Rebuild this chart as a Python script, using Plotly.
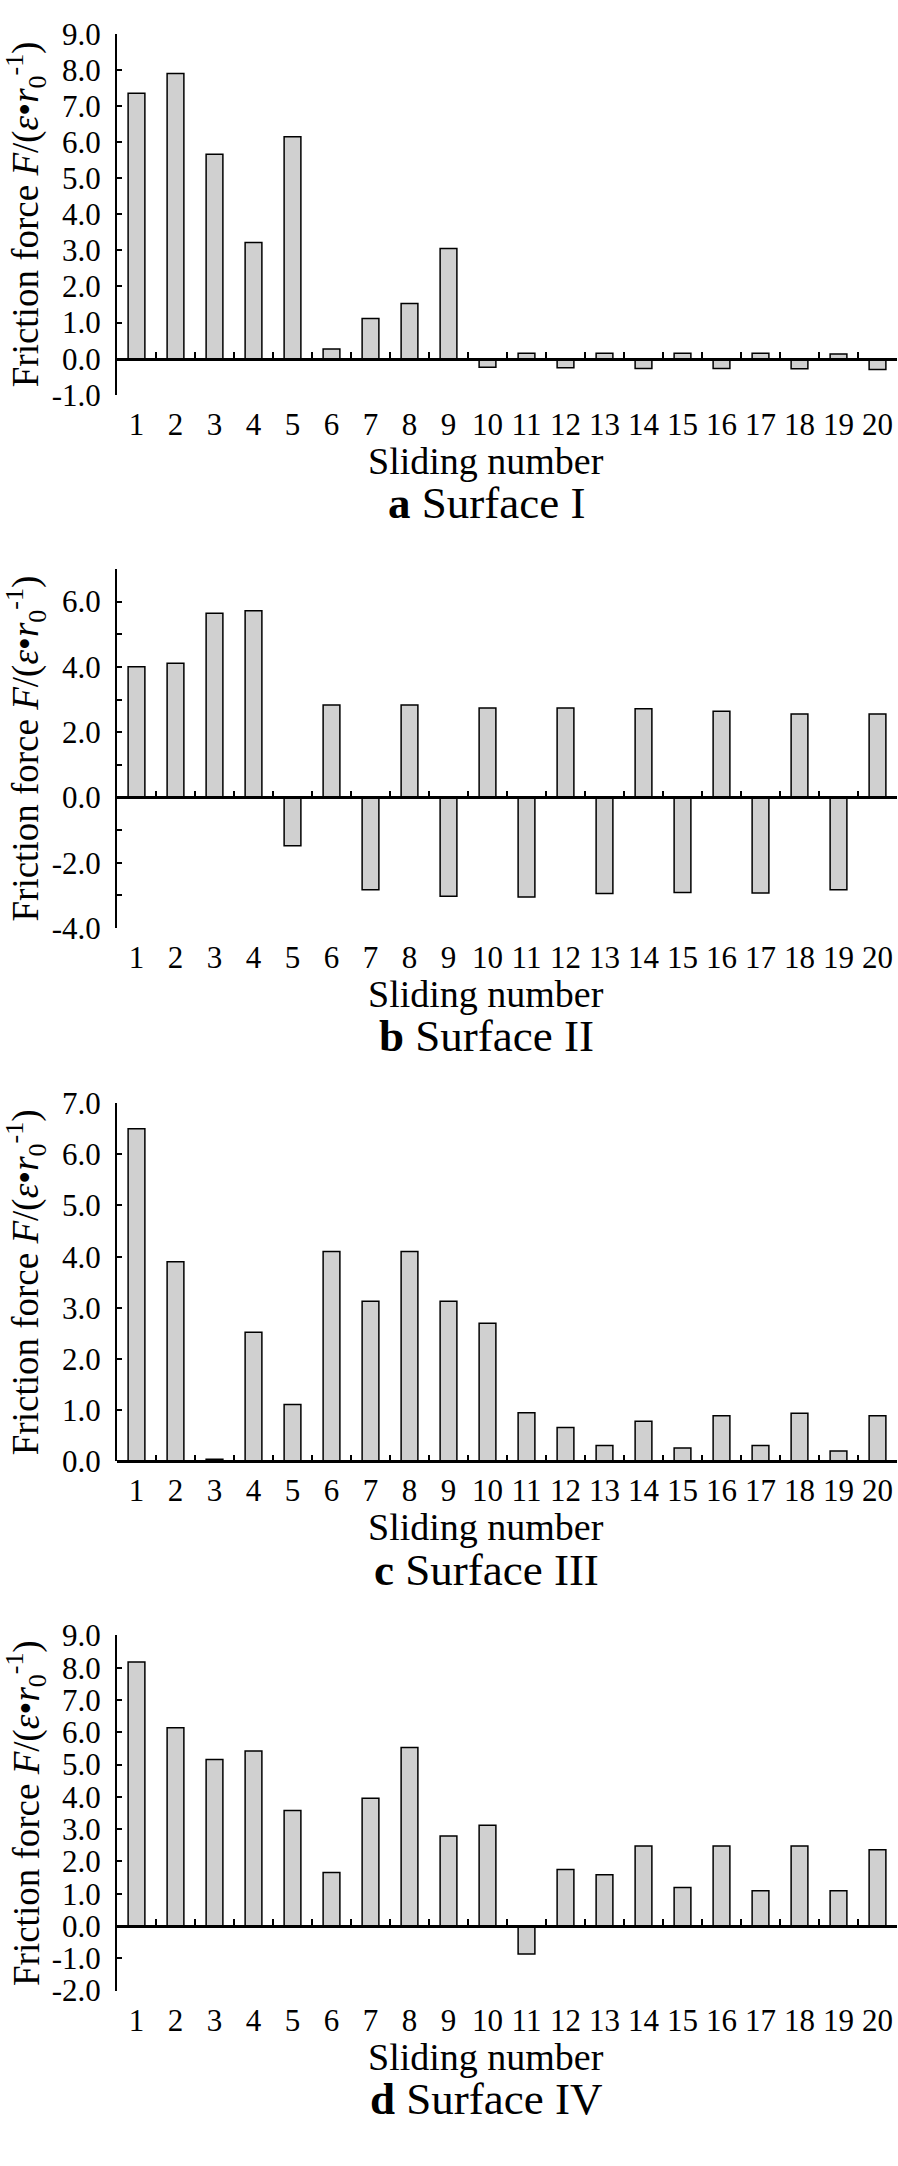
import plotly.graph_objects as go

# ---------------- data ----------------
sliding_number = list(range(1, 21))
tick_labels = [str(n) for n in sliding_number]

surface_I = [7.35, 7.9, 5.66, 3.22, 6.15, 0.27, 1.11, 1.53, 3.05, -0.24,
             0.15, -0.25, 0.15, -0.27, 0.15, -0.27, 0.15, -0.28, 0.13, -0.30]
surface_II = [4.0, 4.11, 5.64, 5.72, -1.48, 2.83, -2.83, 2.83, -3.03, 2.74,
              -3.05, 2.74, -2.94, 2.72, -2.91, 2.64, -2.93, 2.56, -2.83, 2.56]
surface_III = [6.50, 3.90, 0.04, 2.52, 1.11, 4.10, 3.13, 4.10, 3.13, 2.70,
               0.95, 0.66, 0.31, 0.78, 0.26, 0.89, 0.31, 0.94, 0.20, 0.89]
surface_IV = [8.18, 6.14, 5.16, 5.42, 3.58, 1.66, 3.96, 5.53, 2.79, 3.12,
              -0.87, 1.75, 1.59, 2.48, 1.19, 2.48, 1.09, 2.48, 1.09, 2.36]

panel_letters = ["a", "b", "c", "d"]
panel_names = ["Surface I", "Surface II", "Surface III", "Surface IV"]
panel_values = [surface_I, surface_II, surface_III, surface_IV]
y_ranges = [(-1, 9), (-4, 7), (0, 7), (-2, 9)]
y_label_every = [1, 2, 1, 1]

x_title = "Sliding number"
y_title = "Friction force <i>F</i>/(<i>ε</i>•<i>r</i><sub>0</sub><sup>-1</sup>)"

# ---------------- layout geometry (pixels) ----------------
W, H = 898, 2166
X0, X1 = 117, 897
tops = [17, 561, 1104, 1645]
bottoms = [384, 926, 1468, 2006]
FONT = "Liberation Serif, Times New Roman, serif"

fig = go.Figure()
layout = dict(
    width=W, height=H, autosize=False,
    margin=dict(l=0, r=0, t=0, b=0),
    paper_bgcolor="white", plot_bgcolor="white",
    showlegend=False, bargap=0.57,
    font=dict(family=FONT, color="black", size=31),
    annotations=[],
)

boundaries = [n - 0.5 for n in sliding_number] + [sliding_number[-1] + 0.5]
xr = [sliding_number[0] - 0.5, sliding_number[-1] + 0.5]

for i in range(4):
    k = i + 1
    kz = i + 5
    ymin, ymax = y_ranges[i]
    d0 = 1 - bottoms[i] / H
    d1 = 1 - tops[i] / H
    xid = "x" if k == 1 else f"x{k}"
    yid = "y" if k == 1 else f"y{k}"

    fig.add_trace(go.Bar(
        x=sliding_number, y=panel_values[i], xaxis=xid, yaxis=yid,
        marker=dict(color="#d0d0d0", line=dict(color="black", width=1.5)),
        hoverinfo="x+y",
    ))
    # invisible helper so the zero-line axis is drawn
    fig.add_trace(go.Scatter(
        x=[sliding_number[0]], y=[0], xaxis=f"x{kz}", yaxis=yid,
        mode="markers", marker=dict(opacity=0), hoverinfo="skip",
    ))

    all_ticks = list(range(ymin, ymax + 1))
    major = [v for v in all_ticks if v % y_label_every[i] == 0]
    minor = [v for v in all_ticks if v % y_label_every[i] != 0]

    layout[f"xaxis{k}"] = dict(
        domain=[X0 / W, X1 / W], anchor=yid, range=xr,
        tickmode="array", tickvals=sliding_number, ticktext=tick_labels,
        ticks="", showline=False, showgrid=False, zeroline=False,
        tickfont=dict(size=31, family=FONT, color="black"),
        ticklabelstandoff=8,
    )
    zero_pos = d0 + (0 - ymin) / (ymax - ymin) * (d1 - d0)
    layout[f"xaxis{kz}"] = dict(
        domain=[X0 / W, X1 / W], anchor="free", position=zero_pos,
        overlaying=xid, range=xr,
        tickmode="array", tickvals=boundaries, showticklabels=False,
        ticks="inside", ticklen=6, tickwidth=2, tickcolor="black",
        showline=True, linewidth=2.5, linecolor="black",
        showgrid=False, zeroline=False,
    )
    yax = dict(
        domain=[d0, d1], anchor=xid, range=[ymin, ymax],
        tickmode="array", tickvals=major, ticktext=[f"{v:.1f}" for v in major],
        ticks="inside", ticklen=5, tickwidth=2, tickcolor="black",
        showline=True, linewidth=2, linecolor="black",
        showgrid=False, zeroline=False,
        tickfont=dict(size=31, family=FONT, color="black"),
        ticklabelstandoff=8,
    )
    if minor:
        yax["minor"] = dict(tickmode="array", tickvals=minor, ticks="inside",
                            ticklen=5, tickwidth=2, tickcolor="black", showgrid=False)
    layout[f"yaxis{k}"] = yax

    layout["annotations"] += [
        dict(text=y_title, xref="paper", yref="paper", x=26 / W, y=(d0 + d1) / 2,
             textangle=-90, showarrow=False, xanchor="center", yanchor="middle",
             font=dict(size=37, family=FONT, color="black")),
        dict(text=x_title, xref="paper", yref="paper", x=486 / W,
             y=1 - (bottoms[i] + 67) / H, showarrow=False,
             xanchor="center", yanchor="middle",
             font=dict(size=38, family=FONT, color="black")),
        dict(text=f"<b>{panel_letters[i]}</b> {panel_names[i]}", xref="paper", yref="paper",
             x=486 / W, y=1 - (bottoms[i] + 110) / H, showarrow=False,
             xanchor="center", yanchor="middle",
             font=dict(size=45, family=FONT, color="black")),
    ]

fig.update_layout(**layout)
fig.write_html(
    "out.html",
    config={"displayModeBar": False},
    post_script="document.body.style.margin='0';document.body.style.padding='0';document.body.style.overflow='hidden';",
)
